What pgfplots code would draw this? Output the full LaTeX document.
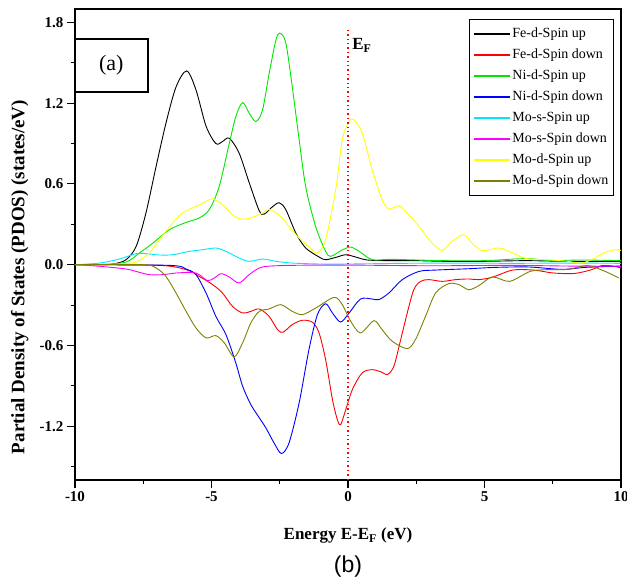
\documentclass[border=0pt]{standalone}
\usepackage{fontspec}
\setmainfont{Liberation Serif}
\setsansfont{Liberation Sans}
\usepackage{pgfplots}
\pgfplotsset{compat=1.18}
\definecolor{olivec}{RGB}{128,128,0}
\definecolor{greenc}{RGB}{0,230,0}
\definecolor{yellowc}{RGB}{255,255,0}
\definecolor{magentac}{RGB}{255,0,255}
\definecolor{cyanc}{RGB}{0,230,255}
\pgfplotsset{
 mylegend/.style={legend image code/.code={\draw[##1, line width=1.6pt] (0pt,0pt) -- (36pt,0pt);}},
}
\begin{document}
\begin{tikzpicture}[x=1pt,y=1pt]
\useasboundingbox (-75,-107) rectangle (552,480);
\begin{axis}[
 name=ax, at={(0,0)}, anchor=south west,
 scale only axis, width=546pt, height=471pt,
 xmin=-10, xmax=10, ymin=-1.6, ymax=1.9,
 xtick={-10,-5,0,5,10}, minor xtick={-7.5,-2.5,2.5,7.5},
 ytick={-1.2,-0.6,0,0.6,1.2,1.8}, minor ytick={-1.5,-0.9,-0.3,0.3,0.9,1.5},
 tick align=outside, xtick pos=bottom, ytick pos=left,
 major tick length=8pt, minor tick length=4pt,
 every tick/.style={black, line width=1.1pt},
 axis line style={line width=1.3pt},
 /pgf/number format/assume math mode=true,
 ticklabel style={font=\bfseries\fontsize{15}{15}\selectfont},
 yticklabel style={/pgf/number format/.cd, fixed, fixed zerofill, precision=1},
 xticklabel style={/pgf/number format/.cd, fixed, precision=0},
 xlabel={Energy E-E\textsubscript{F} (eV)},
 ylabel={Partial Density of States (PDOS) (states/eV)},
 xlabel style={font=\bfseries\fontsize{17}{17}\selectfont, at={(axis description cs:0.5,-0.118)}, anchor=center},
 ylabel style={font=\bfseries\fontsize{19}{19}\selectfont, at={(axis description cs:-0.101,0.431)}, anchor=center},
 legend style={at={(0.987,0.979)}, anchor=north east, font=\fontsize{14}{16}\selectfont,
   draw=black, line width=0.9pt, cells={anchor=west}, row sep=8pt, inner xsep=3pt, inner ysep=8pt,
   nodes={inner ysep=0pt, text height=10pt, text depth=3pt}},
 mylegend,
 every axis plot/.append style={line width=0.9pt, smooth, tension=0.5},
]
\addplot[black] coordinates {(-10,0) (-9,0) (-8.6,0.005) (-8.13,0.037) (-7.76,0.136) (-7.40,0.385) (-7.03,0.73) (-6.67,1.05) (-6.30,1.32) (-5.91,1.44) (-5.57,1.30) (-5.20,1.03) (-4.84,0.90) (-4.60,0.915) (-4.35,0.94) (-3.99,0.83) (-3.62,0.61) (-3.25,0.40) (-3.07,0.376) (-2.77,0.43) (-2.52,0.46) (-2.28,0.41) (-1.91,0.235) (-1.55,0.124) (-1.06,0.057) (-0.82,0.037) (-0.45,0.054) (-0.08,0.074) (0.28,0.057) (0.7,0.035) (1.5,0.03) (2.5,0.03) (3.5,0.025) (5,0.025) (6.5,0.03) (8,0.025) (10,0.025)};
\addlegendentry{Fe-d-Spin up}
\addplot[red] coordinates {(-10,0) (-6.91,-0.005) (-5.93,-0.037) (-5.45,-0.087) (-4.96,-0.148) (-4.60,-0.21) (-4.23,-0.31) (-3.86,-0.359) (-3.56,-0.347) (-3.25,-0.329) (-2.89,-0.384) (-2.58,-0.483) (-2.38,-0.502) (-2.04,-0.445) (-1.67,-0.413) (-1.30,-0.428) (-1.06,-0.507) (-0.82,-0.705) (-0.57,-1.002) (-0.39,-1.151) (-0.27,-1.188) (-0.08,-1.076) (0.16,-0.928) (0.52,-0.804) (0.89,-0.78) (1.25,-0.80) (1.44,-0.817) (1.68,-0.755) (1.93,-0.557) (2.17,-0.359) (2.41,-0.186) (2.66,-0.124) (2.96,-0.111) (3.45,-0.124) (3.94,-0.111) (4.42,-0.106) (4.79,-0.111) (5.29,-0.093) (6.03,-0.04) (6.79,-0.04) (7.53,-0.062) (8.30,-0.065) (8.92,-0.037) (9.29,-0.007) (9.7,-0.01) (10,-0.025)};
\addlegendentry{Fe-d-Spin down}
\addplot[greenc] coordinates {(-10,0) (-9,0.002) (-8.13,0.02) (-7.64,0.087) (-7.15,0.16) (-6.54,0.26) (-5.93,0.314) (-5.45,0.347) (-5.08,0.41) (-4.72,0.58) (-4.35,0.90) (-4.11,1.10) (-3.86,1.205) (-3.62,1.126) (-3.37,1.064) (-3.13,1.15) (-2.89,1.42) (-2.64,1.67) (-2.50,1.72) (-2.28,1.65) (-2.04,1.32) (-1.79,0.93) (-1.55,0.58) (-1.18,0.28) (-0.82,0.10) (-0.63,0.062) (-0.21,0.11) (0.10,0.131) (0.4,0.10) (0.89,0.037) (1.5,0.04) (2.5,0.035) (3.5,0.03) (5,0.03) (6.5,0.045) (7.5,0.03) (8.5,0.035) (10,0.03)};
\addlegendentry{Ni-d-Spin up}
\addplot[blue] coordinates {(-10,0) (-6.54,-0.005) (-5.93,-0.032) (-5.57,-0.074) (-5.20,-0.21) (-4.84,-0.384) (-4.47,-0.52) (-4.11,-0.73) (-3.86,-0.903) (-3.56,-1.039) (-3.25,-1.138) (-3.01,-1.212) (-2.71,-1.324) (-2.44,-1.403) (-2.16,-1.324) (-1.79,-1.027) (-1.43,-0.631) (-1.12,-0.371) (-0.82,-0.29) (-0.57,-0.359) (-0.27,-0.426) (0.04,-0.359) (0.46,-0.255) (0.89,-0.255) (1.13,-0.26) (1.50,-0.21) (1.99,-0.111) (2.60,-0.05) (3.21,-0.04) (4.42,-0.03) (5.40,-0.02) (6.62,-0.017) (7.84,-0.035) (8.69,-0.02) (10,-0.01)};
\addlegendentry{Ni-d-Spin down}
\addplot[cyanc] coordinates {(-10,0) (-9.10,0.012) (-8.37,0.042) (-7.76,0.082) (-7.40,0.082) (-6.91,0.072) (-6.42,0.074) (-5.81,0.099) (-5.33,0.111) (-4.84,0.124) (-4.47,0.099) (-3.99,0.05) (-3.62,0.025) (-3.13,0.042) (-2.64,0.025) (-2.04,0.012) (-1,0.005) (0,0.005) (2,0.01) (4,0.012) (6,0.01) (8,0.012) (10,0.01)};
\addlegendentry{Mo-s-Spin up}
\addplot[magentac] coordinates {(-10,0) (-9.10,-0.012) (-8.13,-0.032) (-7.64,-0.057) (-7.28,-0.074) (-6.79,-0.074) (-6.30,-0.062) (-5.69,-0.057) (-5.45,-0.074) (-5.14,-0.119) (-4.90,-0.099) (-4.65,-0.067) (-4.35,-0.091) (-3.99,-0.136) (-3.62,-0.074) (-3.13,-0.017) (-2.04,-0.005) (0,-0.003) (3,-0.008) (6,-0.005) (8,-0.01) (10,-0.012)};
\addlegendentry{Mo-s-Spin down}
\addplot[yellowc] coordinates {(-10,0) (-8.5,0.003) (-7.76,0.02) (-7.28,0.087) (-6.91,0.186) (-6.42,0.31) (-6.06,0.384) (-5.57,0.433) (-5.20,0.47) (-4.94,0.49) (-4.60,0.445) (-4.23,0.371) (-3.92,0.339) (-3.56,0.347) (-3.13,0.384) (-2.89,0.41) (-2.52,0.37) (-2.16,0.284) (-1.79,0.198) (-1.30,0.11) (-1.12,0.087) (-0.82,0.186) (-0.45,0.557) (-0.21,0.928) (0.04,1.064) (0.22,1.076) (0.52,0.977) (0.89,0.705) (1.25,0.483) (1.50,0.413) (1.86,0.438) (2.23,0.371) (2.60,0.284) (3.08,0.161) (3.45,0.106) (3.81,0.173) (4.24,0.223) (4.54,0.161) (4.91,0.105) (5.54,0.124) (6.03,0.087) (6.54,0.045) (7.29,0.037) (8.04,0.025) (8.54,0.012) (8.92,0.037) (9.42,0.091) (9.80,0.111) (10,0.106)};
\addlegendentry{Mo-d-Spin up}
\addplot[olivec] coordinates {(-10,0) (-7.52,0) (-7.03,-0.025) (-6.67,-0.087) (-6.30,-0.21) (-5.93,-0.347) (-5.57,-0.47) (-5.20,-0.544) (-4.84,-0.527) (-4.53,-0.581) (-4.17,-0.685) (-3.86,-0.581) (-3.56,-0.433) (-3.25,-0.347) (-2.89,-0.329) (-2.46,-0.297) (-2.04,-0.347) (-1.67,-0.371) (-1.18,-0.322) (-0.51,-0.243) (-0.21,-0.297) (0.10,-0.421) (0.46,-0.507) (0.95,-0.416) (1.25,-0.483) (1.62,-0.569) (2.17,-0.624) (2.47,-0.557) (2.84,-0.384) (3.21,-0.21) (3.69,-0.141) (4.06,-0.148) (4.42,-0.186) (4.79,-0.156) (5.29,-0.091) (5.92,-0.124) (6.67,-0.05) (7.29,-0.037) (8.04,-0.035) (8.79,-0.007) (9.42,-0.05) (9.92,-0.099)};
\addlegendentry{Mo-d-Spin down}
\draw[red, line width=1.4pt, dash pattern=on 1.4pt off 3pt] (axis cs:0,-1.6) -- (axis cs:0,1.76);
\draw[line width=1.5pt] (axis cs:-10,1.284) rectangle (axis cs:-7.33,1.678);
\node[font=\fontsize{22}{22}\selectfont] at (axis cs:-8.67,1.48) {(a)};
\node[anchor=west, font=\bfseries\fontsize{17}{17}\selectfont, inner sep=0pt] at (axis cs:0.15,1.63) {E\textsubscript{F}};
\end{axis}
\node[font=\sffamily\fontsize{23}{23}\selectfont] at ([yshift=-87pt]ax.south) {(b)};
\end{tikzpicture}
\end{document}
